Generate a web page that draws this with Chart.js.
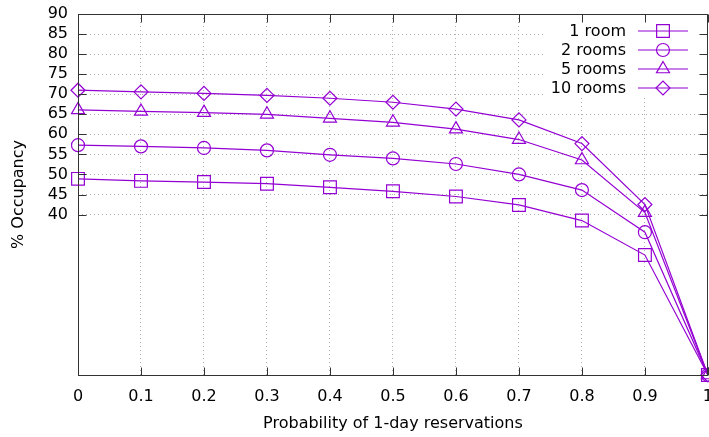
<!DOCTYPE html>
<html>
<head>
<meta charset="utf-8">
<script src="https://cdn.jsdelivr.net/npm/chart.js@4/dist/chart.umd.min.js"></script>
<style>
  html, body { margin: 0; padding: 0; background: #fff; overflow: hidden; width: 709px; height: 437px; }
  #wrap { width: 709px; height: 437px; overflow: hidden; }
  canvas { display: block; }
</style>
</head>
<body>
<div id="wrap"><canvas id="c" width="725" height="437"></canvas></div>
<script>
const probabilities = [0, 0.1, 0.2, 0.3, 0.4, 0.5, 0.6, 0.7, 0.8, 0.9, 1.0];
const oneRoom   = [48.9, 48.4, 48.1, 47.7, 46.8, 45.8, 44.5, 42.4, 38.5, 29.9, 0];
const twoRooms  = [57.3, 57.0, 56.6, 56.0, 54.9, 54.0, 52.6, 50.0, 46.1, 35.6, 0];
const fiveRooms = [66.1, 65.7, 65.4, 65.0, 64.0, 63.0, 61.3, 58.7, 53.6, 40.5, 0];
const tenRooms  = [71.0, 70.6, 70.2, 69.7, 69.0, 68.0, 66.3, 63.6, 57.7, 42.5, 0];
const seriesLabels = ['1 room', '2 rooms', '5 rooms', '10 rooms'];
const xTickValues = [0, 0.1, 0.2, 0.3, 0.4, 0.5, 0.6, 0.7, 0.8, 0.9, 1];
const yTickValues = [40, 45, 50, 55, 60, 65, 70, 75, 80, 85, 90];

const PURPLE = '#9400D3';
const FONT = 'DejaVu Sans';
const FSIZE = 16;
const styles = [
  { pointStyle: 'rect', radius: 9 },
  { pointStyle: 'circle', radius: 6.5 },
  { pointStyle: 'triangle', radius: 7.5 },
  { pointStyle: 'rectRot', radius: 7 }
];
const allSeries = [oneRoom, twoRooms, fiveRooms, tenRooms];

const datasets = allSeries.map((vals, i) => ({
  label: seriesLabels[i],
  data: probabilities.map((p, j) => ({ x: p, y: vals[j] })),
  borderColor: PURPLE,
  borderWidth: 1.2,
  backgroundColor: 'transparent',
  pointStyle: styles[i].pointStyle,
  pointRadius: styles[i].radius,
  pointHoverRadius: styles[i].radius,
  pointBorderColor: PURPLE,
  pointBackgroundColor: 'rgba(0,0,0,0)',
  pointBorderWidth: 1.2,
  tension: 0,
  fill: false,
  clip: false
}));

const frame = {
  id: 'frame',
  afterDatasetsDraw(chart) {
    const ctx = chart.ctx;
    const a = chart.chartArea;
    const xs = chart.scales.x, ys = chart.scales.y;
    ctx.save();
    // opaque key box
    const keyLeft = 545, keyRight = 700, keyTop = a.top + 1, keyBottom = 97;
    ctx.fillStyle = '#fff';
    ctx.fillRect(keyLeft, keyTop, keyRight - keyLeft, keyBottom - keyTop);
    const rowsY = [31, 50, 69, 88];
    ctx.font = FSIZE + 'px "' + FONT + '"';
    ctx.textAlign = 'right';
    ctx.textBaseline = 'middle';
    chart.data.datasets.forEach((ds, i) => {
      const y = rowsY[i];
      ctx.fillStyle = '#000';
      ctx.fillText(ds.label, 626, y + 1);
      ctx.strokeStyle = PURPLE;
      ctx.lineWidth = 1.2;
      ctx.beginPath();
      ctx.moveTo(638, y);
      ctx.lineTo(688, y);
      ctx.stroke();
      ctx.fillStyle = 'rgba(0,0,0,0)';
      ctx.strokeStyle = PURPLE;
      Chart.helpers.drawPoint(ctx, {
        pointStyle: ds.pointStyle,
        radius: ds.pointRadius,
        rotation: 0,
        borderWidth: 1.2
      }, 663, y);
    });
    // border box
    ctx.strokeStyle = '#333';
    ctx.lineWidth = 1;
    const L = Math.round(a.left) + 0.5, T = Math.round(a.top) + 0.5;
    const R = Math.round(a.right) - 0.5, B = Math.round(a.bottom) + 0.5;
    ctx.strokeRect(L, T, R - L, B - T);
    // inward ticks
    const tl = 8;
    ctx.beginPath();
    xTickValues.forEach(v => {
      const px = Math.round(xs.getPixelForValue(v)) + 0.5;
      ctx.moveTo(px, B); ctx.lineTo(px, B - tl);
      ctx.moveTo(px, T); ctx.lineTo(px, T + tl);
    });
    yTickValues.forEach(v => {
      const py = Math.round(ys.getPixelForValue(v)) + 0.5;
      ctx.moveTo(L, py); ctx.lineTo(L + tl, py);
      ctx.moveTo(R, py); ctx.lineTo(R - tl, py);
    });
    ctx.stroke();
    ctx.restore();
  }
};

new Chart(document.getElementById('c'), {
  type: 'line',
  data: { datasets },
  options: {
    responsive: false,
    animation: false,
    devicePixelRatio: 1,
    layout: { padding: { left: 0, right: 0, top: 14, bottom: 0 } },
    plugins: { legend: { display: false }, tooltip: { enabled: false } },
    scales: {
      x: {
        type: 'linear',
        min: 0, max: 1,
        afterBuildTicks(scale) { scale.ticks = xTickValues.map(v => ({ value: v })); },
        afterFit(scale) { scale.height = 62; },
        ticks: {
          color: '#000',
          font: { family: FONT, size: FSIZE },
          padding: 12,
          maxRotation: 0,
          autoSkip: false,
          callback: v => String(v)
        },
        grid: { color: '#b0b0b0', lineWidth: 1, drawTicks: false },
        border: { display: false, dash: [1, 3] },
        title: {
          display: true,
          text: 'Probability of 1-day reservations',
          color: '#000',
          font: { family: FONT, size: FSIZE },
          padding: { top: 0, bottom: 4 }
        }
      },
      y: {
        type: 'linear',
        min: 0, max: 90,
        afterBuildTicks(scale) { scale.ticks = yTickValues.map(v => ({ value: v })); },
        afterFit(scale) { scale.width = 78; scale.paddingTop = 0; scale.paddingBottom = 0; },
        ticks: {
          color: '#000',
          font: { family: FONT, size: FSIZE },
          padding: 10,
          autoSkip: false
        },
        grid: { color: '#b0b0b0', lineWidth: 1, drawTicks: false },
        border: { display: false, dash: [1, 3] },
        title: {
          display: true,
          text: '% Occupancy',
          color: '#000',
          font: { family: FONT, size: FSIZE },
          padding: { top: 9, bottom: 0 }
        }
      }
    }
  },
  plugins: [frame]
});
</script>
</body>
</html>
